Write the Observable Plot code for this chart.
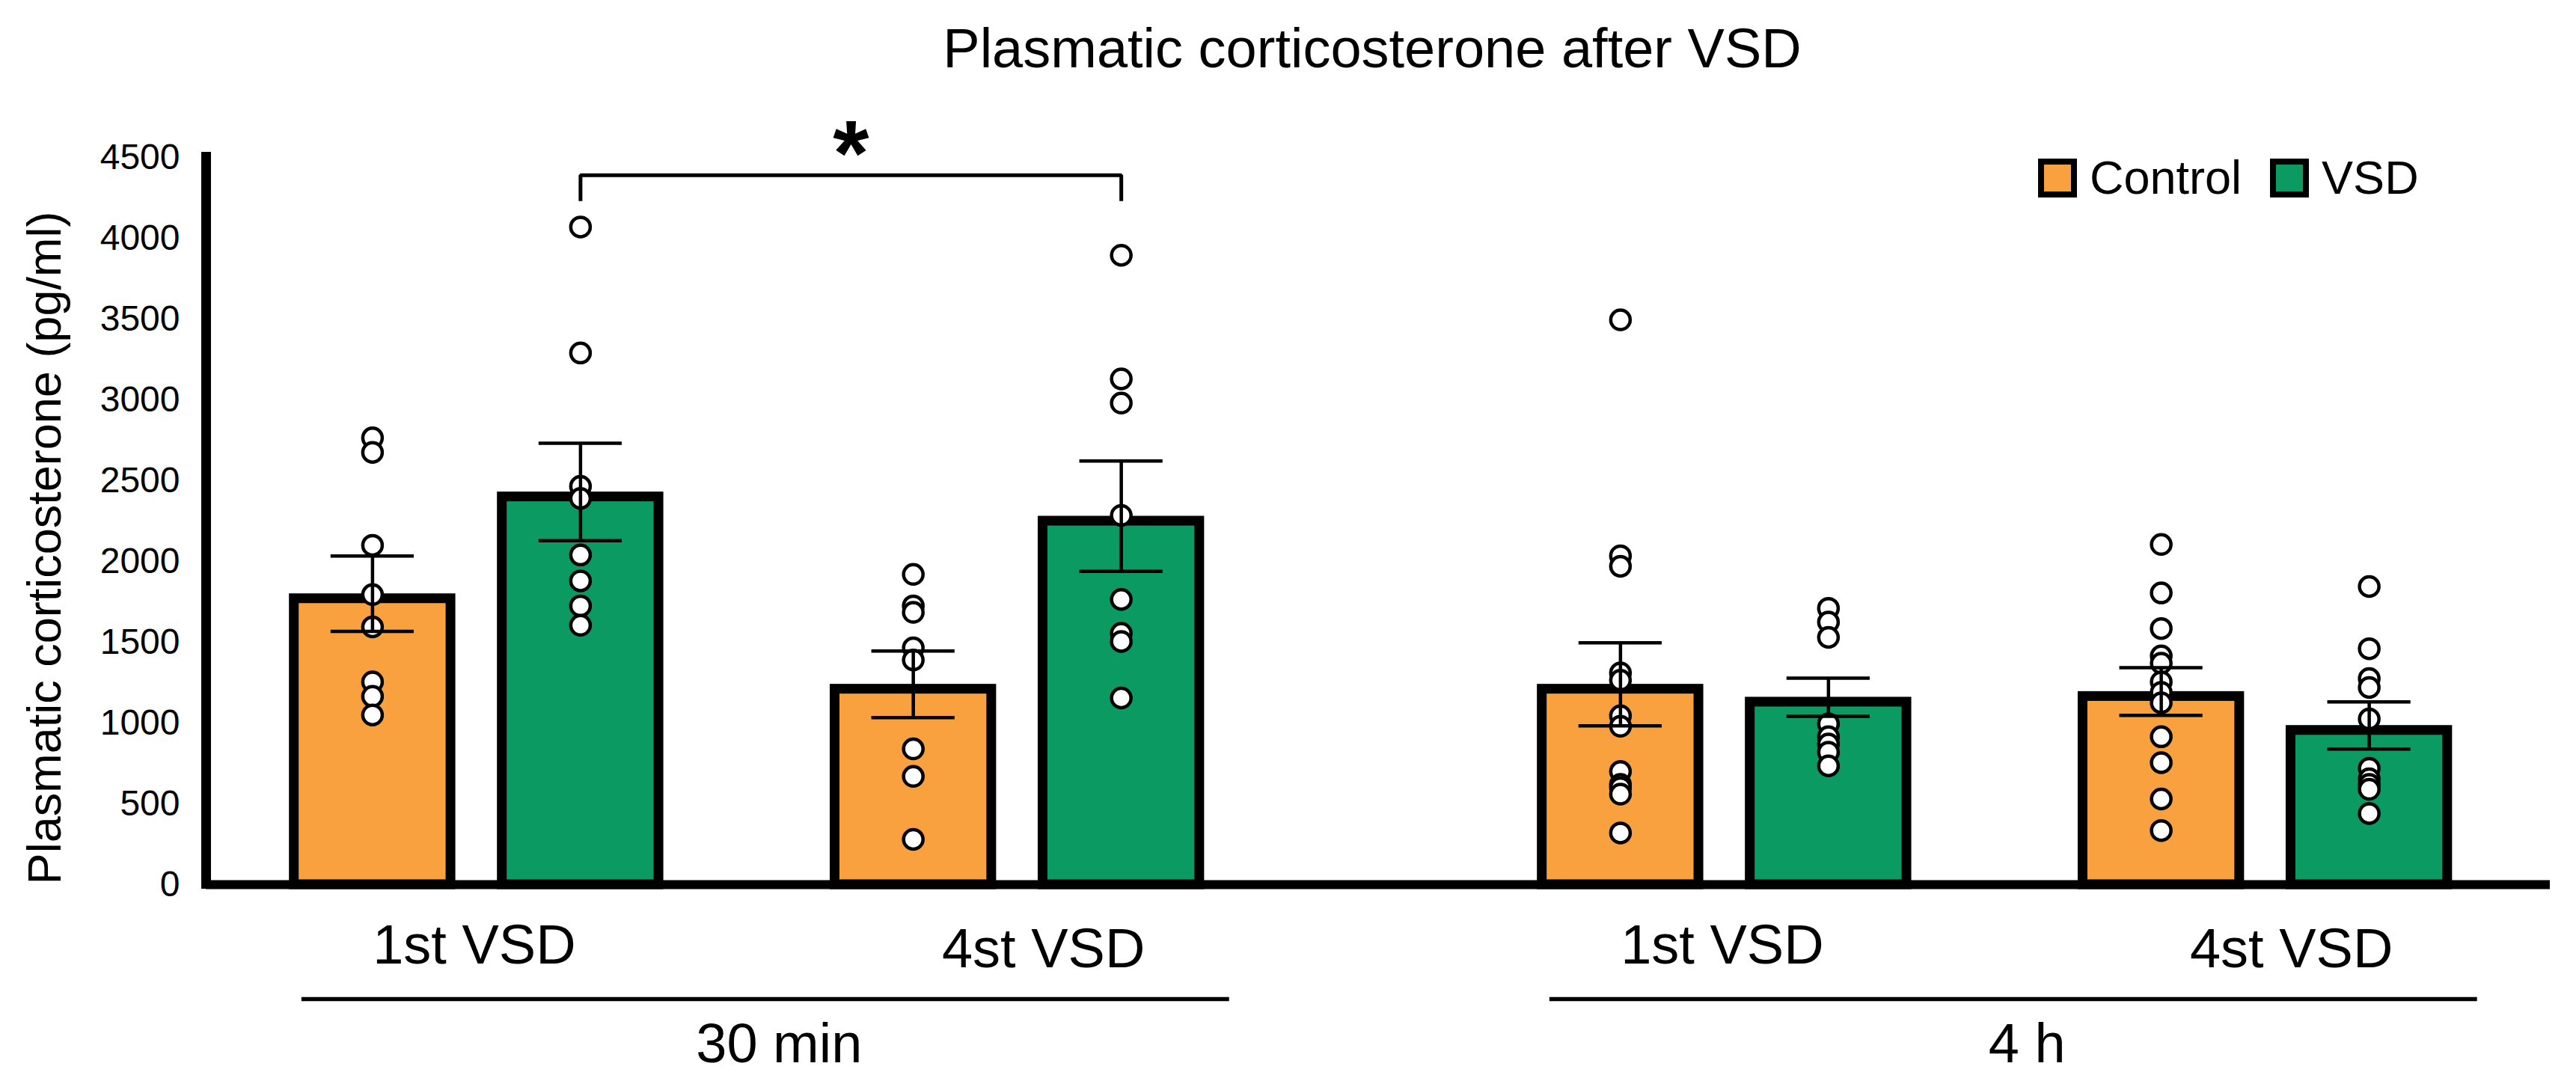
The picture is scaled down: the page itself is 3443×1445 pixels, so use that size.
<!DOCTYPE html>
<html>
<head>
<meta charset="utf-8">
<script src="https://cdn.jsdelivr.net/npm/d3@7"></script>
<script src="https://cdn.jsdelivr.net/npm/@observablehq/plot@0.6"></script>
<style>
  html, body { margin: 0; padding: 0; background: #fff; }
  #wrap { position: relative; width: 3443px; height: 1445px; font-family: "Liberation Sans", Arial, sans-serif; }
  #legend { position: absolute; left: 2724px; top: 206px; display: flex; align-items: center; font-size: 63px; color: #000; line-height: 1; }
  #legend .sw { width: 52px; height: 52px; box-sizing: border-box; border: 8px solid #000; }
  #legend .lab { margin-left: 17px; }
  #legend .item { display: flex; align-items: center; }
  #legend .item + .item { margin-left: 38px; }
</style>
</head>
<body>
<div id="wrap"><div id="legend"></div></div>
<script>
// ---------------- data ----------------
const title = "Plasmatic corticosterone after VSD";
const yLabel = "Plasmatic corticosterone (pg/ml)";
const timepoints = ["30 min", "4 h"];
const sessions = ["1st VSD", "4st VSD"];
const groups = ["Control", "VSD"];
const yTicks = [0, 500, 1000, 1500, 2000, 2500, 3000, 3500, 4000, 4500];

// order of cells: [30 min 1st, 30 min 4st, 4 h 1st, 4 h 4st]
const controlMean = [1800, 1240, 1240, 1195];
const vsdMean     = [2430, 2280, 1160, 985];
const controlSem  = [233, 206, 257, 148];
const vsdSem      = [301, 341, 118, 146];

const controlPoints = [
  [2765, 2675, 2100, 1795, 1595, 1255, 1165, 1050],
  [1920, 1725, 1685, 1465, 1390, 840, 670, 280],
  [3495, 2035, 1970, 1310, 1265, 1045, 980, 700, 620, 600, 560, 320],
  [2105, 1805, 1585, 1415, 1370, 1255, 1190, 1125, 915, 755, 530, 335]
];
const vsdPoints = [
  [4070, 3290, 2465, 2390, 2040, 1880, 1725, 1605],
  [3895, 3130, 2980, 2285, 1765, 1555, 1505, 1155],
  [1710, 1625, 1530, 995, 915, 870, 820, 735],
  [1845, 1460, 1275, 1220, 1025, 720, 655, 620, 590, 440]
];

// significance annotation (30 min: VSD 1st vs VSD 4st)
const sigFrom = ["30 min", "1st VSD", "VSD"];
const sigTo   = ["30 min", "4st VSD", "VSD"];
const sigLabel = "*";
const bracketLevels = [4230, 4390];

// ---------------- style / layout ----------------
const groupColors = ["#F9A13F", "#0B9A61"];
const FONT = "Liberation Sans, Arial, sans-serif";
const pairStep = 5, sessionStep = 13, timeStep = 30; // slot units
const slotOf = (t, s, g) => t * timeStep + s * sessionStep + g * pairStep;

const bars = [], points = [], caps = [];
timepoints.forEach((tp, t) => sessions.forEach((se, s) => {
  const k = t * sessions.length + s;
  groups.forEach((g, gi) => {
    const mean = gi ? vsdMean[k] : controlMean[k];
    const sem = gi ? vsdSem[k] : controlSem[k];
    const slot = slotOf(t, s, gi);
    bars.push({time: tp, session: se, group: g, slot, mean, sem});
    caps.push({slot, y: mean + sem}, {slot, y: mean - sem});
    (gi ? vsdPoints : controlPoints)[k].forEach(v => points.push({group: g, slot, value: v}));
  });
}));

const sessionLabels = [];
timepoints.forEach((tp, t) => sessions.forEach((se, s) =>
  sessionLabels.push({time: tp, session: se, slot: (slotOf(t, s, 0) + slotOf(t, s, 1)) / 2})));
const timeSpans = timepoints.map((tp, t) => ({
  time: tp,
  center: (slotOf(t, 0, 0) + slotOf(t, 1, 1)) / 2,
  x1: slotOf(t, 0, 0) - 1.7,
  x2: slotOf(t, 1, 1) + 2.6
}));

const slotFor = ([tp, se, g]) => slotOf(timepoints.indexOf(tp), sessions.indexOf(se), groups.indexOf(g));
const sa = slotFor(sigFrom), sb = slotFor(sigTo);
const bracket = [
  {x: sa, y: bracketLevels[0]}, {x: sa, y: bracketLevels[1]},
  {x: sb, y: bracketLevels[1]}, {x: sb, y: bracketLevels[0]}
];

const xDomain = [slotOf(0, 0, 0) - 4, slotOf(1, 1, 1) + 4.35];

const chart = Plot.plot({
  width: 3443,
  height: 1445,
  marginLeft: 275,
  marginRight: 35,
  marginTop: 210,
  marginBottom: 263,
  style: {fontFamily: FONT, background: "white", color: "black", overflow: "visible"},
  x: {domain: xDomain, axis: null},
  y: {domain: [0, 4500], axis: null},
  color: {domain: groups, range: groupColors},
  marks: [
    Plot.rect(bars, {
      x1: d => d.slot - 2, x2: d => d.slot + 2, y1: 0, y2: "mean",
      fill: "group", stroke: "black", strokeWidth: 13,
      insetTop: 6.5, insetLeft: 6.5, insetRight: 6.5
    }),
    Plot.dot(points, {x: "slot", y: "value", r: 13, fill: "white", stroke: "black", strokeWidth: 4.5}),
    Plot.ruleX(bars, {x: "slot", y1: d => d.mean - d.sem, y2: d => d.mean + d.sem, stroke: "black", strokeWidth: 4.5}),
    Plot.ruleY(caps, {y: "y", x1: d => d.slot - 1, x2: d => d.slot + 1, stroke: "black", strokeWidth: 4.5}),
    Plot.ruleY([0], {stroke: "black", strokeWidth: 12}),
    Plot.ruleX([xDomain[0]], {stroke: "black", strokeWidth: 13, insetTop: -7, insetBottom: -6}),
    Plot.axisY({ticks: yTicks, tickSize: 0, tickPadding: 35, fontSize: 48, tickFormat: d => String(d), label: null}),
    Plot.text([yLabel], {frameAnchor: "left", text: d => d, rotate: -90, dx: -215, dy: 36, fontSize: 63, textAnchor: "middle", lineAnchor: "middle"}),
    Plot.text(sessionLabels.filter(d => d.session === sessions[0]), {
      x: "slot", text: "session", frameAnchor: "bottom", dy: 82, dx: -3, fontSize: 74, textAnchor: "middle", lineAnchor: "middle"
    }),
    Plot.text(sessionLabels.filter(d => d.session === sessions[1]), {
      x: "slot", text: "session", frameAnchor: "bottom", dy: 87, dx: 35, fontSize: 74, textAnchor: "middle", lineAnchor: "middle"
    }),
    Plot.ruleY(timeSpans, {y: () => 0, x1: "x1", x2: "x2", dy: 153, stroke: "black", strokeWidth: 5.5}),
    Plot.text(timeSpans, {x: "center", text: "time", frameAnchor: "bottom", dy: 214, dx: 43, fontSize: 74, textAnchor: "middle", lineAnchor: "middle"}),
    Plot.line(bracket, {x: "x", y: "y", stroke: "black", strokeWidth: 5, strokeLinejoin: "miter", strokeLinecap: "butt"}),
    Plot.text([sigLabel], {x: () => (sa + sb) / 2, y: () => bracketLevels[1], text: d => d, dy: -26, fontSize: 124, fontWeight: "bold", lineAnchor: "middle"}),
    Plot.text([title], {frameAnchor: "top", text: d => d, dy: -144, dx: -8, fontSize: 74, textAnchor: "middle", lineAnchor: "middle"})
  ]
});

const wrap = document.getElementById("wrap");
wrap.insertBefore(chart, wrap.firstChild);

const legend = document.getElementById("legend");
groups.forEach((g, i) => {
  const item = document.createElement("div");
  item.className = "item";
  const sw = document.createElement("div");
  sw.className = "sw";
  sw.style.background = groupColors[i];
  const lab = document.createElement("span");
  lab.className = "lab";
  lab.textContent = g;
  item.appendChild(sw);
  item.appendChild(lab);
  legend.appendChild(item);
});
</script>
</body>
</html>
